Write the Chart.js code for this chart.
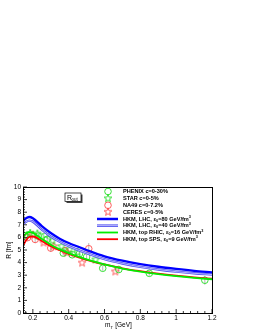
<!DOCTYPE html>
<html>
<head>
<meta charset="utf-8">
<script src="https://cdn.jsdelivr.net/npm/chart.js@4/dist/chart.umd.min.js"></script>
<style>
  html, body { margin: 0; padding: 0; background: #fff; }
  #wrap { width: 255px; height: 330px; }
</style>
</head>
<body>
<div id="wrap"><canvas id="routChart" width="255" height="330"></canvas></div>
<script>
// HKM model curves, R_out vs m_T
const curveMt = [0.145, 0.16, 0.18, 0.2, 0.25, 0.3, 0.35, 0.4, 0.5, 0.6, 0.7, 0.8, 0.9, 1.0, 1.1, 1.2];
const lhc80 = [7.3, 7.5, 7.62, 7.52, 6.9, 6.35, 5.9, 5.55, 5.0, 4.5, 4.15, 3.88, 3.67, 3.5, 3.35, 3.23];
const lhc40 = [7.05, 7.22, 7.33, 7.25, 6.62, 6.07, 5.65, 5.3, 4.75, 4.27, 3.93, 3.66, 3.45, 3.28, 3.15, 3.05];
const rhic16 = [6.0, 6.28, 6.42, 6.36, 5.88, 5.42, 5.05, 4.75, 4.25, 3.85, 3.53, 3.28, 3.08, 2.92, 2.79, 2.68];
const sps9 = [5.35, 5.72, 6.05, 6.08, 5.72, 5.3, 4.98, 4.7, 4.22, 3.85, 3.55, 3.32, 3.12, 2.96, 2.83, 2.72];

// experimental points
const phenixMt = [0.155, 0.23, 0.28, 0.37, 0.42, 0.46, 0.5, 0.59, 0.68, 0.85, 1.16];
const phenixR = [6.15, 6.1, 5.85, 4.75, 4.62, 4.7, 4.45, 3.55, 3.45, 3.15, 2.6];
const phenixErr = [0.2, 0.2, 0.2, 0.2, 0.2, 0.2, 0.2, 0.2, 0.2, 0.2, 0.35];
const starMt = [0.185, 0.225, 0.27, 0.31, 0.36, 0.405, 0.45, 0.55];
const starR = [6.35, 6.3, 6.2, 5.75, 5.3, 5.05, 4.85, 4.25];
const na49Mt = [0.17, 0.213, 0.3, 0.38, 0.512];
const na49R = [5.98, 5.84, 5.15, 4.95, 5.1];
const na49Err = [0.25, 0.3, 0.3, 0.3, 0.45];
const ceresMt = [0.2, 0.26, 0.315, 0.39, 0.475, 0.66];
const ceresR = [6.22, 5.6, 5.3, 4.8, 4.0, 3.3];

const xTicks = [0.2, 0.4, 0.6, 0.8, 1, 1.2];
const yTicks = [0, 1, 2, 3, 4, 5, 6, 7, 8, 9, 10];

const GREEN = '#22dd22';
const RED = '#ff4c4c';

function starImg(color) {
  const c = document.createElement('canvas');
  c.width = 10; c.height = 10;
  const g = c.getContext('2d');
  g.strokeStyle = color;
  g.lineWidth = 0.9;
  g.beginPath();
  for (let i = 0; i < 10; i++) {
    const r = i % 2 ? 1.7 : 4.1;
    const a = -Math.PI / 2 + i * Math.PI / 5;
    const px = 5 + r * Math.cos(a), py = 5.2 + r * Math.sin(a);
    i ? g.lineTo(px, py) : g.moveTo(px, py);
  }
  g.closePath();
  g.stroke();
  return c;
}
const greenStar = starImg(GREEN);
const redStar = starImg(RED);

const pts = (xs, ys) => xs.map((x, i) => ({ x, y: ys[i] }));

function curve(ys, color, width) {
  return {
    type: 'line', data: pts(curveMt, ys), borderColor: color, borderWidth: width,
    pointRadius: 0, fill: false, cubicInterpolationMode: 'monotone',
  };
}

function marker(xs, ys, style, color) {
  return {
    type: 'scatter', data: pts(xs, ys), pointStyle: style, pointRadius: 3.3,
    borderColor: color, backgroundColor: 'rgba(0,0,0,0)', borderWidth: 0.9,
  };
}

const errBars = [
  { x: phenixMt, y: phenixR, e: phenixErr },
  { x: na49Mt, y: na49R, e: na49Err },
];

// frame, ticks, labels, legend drawn ROOT-style
const rootFrame = {
  id: 'rootFrame',
  beforeDatasetsDraw(chart) {
    const { ctx, scales: { x, y } } = chart;
    ctx.save();
    ctx.strokeStyle = '#999';
    ctx.lineWidth = 0.7;
    errBars.forEach((s) => {
      s.x.forEach((mx, i) => {
        const px = x.getPixelForValue(mx);
        ctx.beginPath();
        ctx.moveTo(px, y.getPixelForValue(s.y[i] - s.e[i]));
        ctx.lineTo(px, y.getPixelForValue(s.y[i] + s.e[i]));
        ctx.stroke();
      });
    });
    ctx.restore();
  },
  afterDraw(chart) {
    const { ctx, chartArea: a, scales: { x, y } } = chart;
    ctx.save();
    ctx.strokeStyle = '#000';
    ctx.lineWidth = 1;
    ctx.strokeRect(a.left + 0.5, a.top + 0.5, a.right - a.left, a.bottom - a.top);

    ctx.lineWidth = 0.8;
    ctx.beginPath();
    for (let v = 0.16; v <= 1.2001; v += 0.04) {
      const px = x.getPixelForValue(v);
      const major = Math.abs(v * 5 - Math.round(v * 5)) < 1e-6;
      ctx.moveTo(px, a.bottom);
      ctx.lineTo(px, a.bottom - (major ? 4 : 2));
    }
    for (let v = 0; v <= 10.001; v += 0.2) {
      const py = y.getPixelForValue(v);
      const major = Math.abs(v - Math.round(v)) < 1e-6;
      ctx.moveTo(a.left, py);
      ctx.lineTo(a.left + (major ? 4 : 2), py);
    }
    ctx.stroke();

    ctx.fillStyle = '#000';
    ctx.font = '6.5px "Liberation Sans", Arial, sans-serif';
    ctx.textAlign = 'center';
    ctx.textBaseline = 'top';
    xTicks.forEach((v) => ctx.fillText(String(v), x.getPixelForValue(v), a.bottom + 2));
    ctx.textAlign = 'right';
    ctx.textBaseline = 'middle';
    yTicks.forEach((v) => ctx.fillText(String(v), a.left - 2, y.getPixelForValue(v)));

    // axis titles
    ctx.textAlign = 'left';
    ctx.textBaseline = 'alphabetic';
    ctx.font = '6.5px "Liberation Sans", Arial, sans-serif';
    ctx.fillText('m', 105, 327);
    const w = ctx.measureText('m').width;
    ctx.font = '4.2px "Liberation Sans", Arial, sans-serif';
    ctx.fillText('T', 105 + w, 328.5);
    ctx.font = '6.5px "Liberation Sans", Arial, sans-serif';
    ctx.fillText(' [GeV]', 105 + w + 3, 327);

    ctx.save();
    ctx.translate(11, 250);
    ctx.rotate(-Math.PI / 2);
    ctx.textAlign = 'center';
    ctx.fillText('R [fm]', 0, 0);
    ctx.restore();

    // R_out label box
    ctx.fillStyle = '#444';
    ctx.fillRect(66.5, 194.5, 16, 8.5);
    ctx.fillStyle = '#fff';
    ctx.fillRect(65, 193, 16, 8.5);
    ctx.strokeStyle = '#000';
    ctx.lineWidth = 0.7;
    ctx.strokeRect(65, 193, 16, 8.5);
    ctx.fillStyle = '#000';
    ctx.font = '7px "Liberation Sans", Arial, sans-serif';
    ctx.fillText('R', 67, 200);
    ctx.font = '4.5px "Liberation Sans", Arial, sans-serif';
    ctx.fillText('out', 71.5, 201.3);

    // legend
    const rows = [
      { kind: 'circle', color: GREEN, text: ['PHENIX c=0-30%'] },
      { kind: 'star', img: greenStar, text: ['STAR c=0-5%'] },
      { kind: 'circle', color: RED, text: ['NA49 c=0-7.2%'] },
      { kind: 'star', img: redStar, text: ['CERES c=0-5%'] },
      { kind: 'line', color: '#0000ff', width: 2.5, text: ['HKM, LHC, ε', '0', '=80 GeV/fm', '3'] },
      { kind: 'double', text: ['HKM, LHC, ε', '0', '=40 GeV/fm', '3'] },
      { kind: 'line', color: '#00ee00', width: 1.8, text: ['HKM, top RHIC, ε', '0', '=16 GeV/fm', '3'] },
      { kind: 'line', color: '#ff0000', width: 1.8, text: ['HKM, top SPS, ε', '0', '=9 GeV/fm', '3'] },
    ];
    const rowY = [191.5, 198.5, 205.3, 212, 219, 225.7, 232.5, 239.2];
    rows.forEach((r, i) => {
      const ry = rowY[i];
      if (r.kind === 'circle') {
        ctx.strokeStyle = r.color;
        ctx.lineWidth = 0.9;
        ctx.beginPath();
        ctx.arc(108, ry, 3.3, 0, Math.PI * 2);
        ctx.stroke();
      } else if (r.kind === 'star') {
        ctx.drawImage(r.img, 103, ry - 5.2);
      } else if (r.kind === 'line') {
        ctx.strokeStyle = r.color;
        ctx.lineWidth = r.width;
        ctx.beginPath(); ctx.moveTo(97, ry); ctx.lineTo(118, ry); ctx.stroke();
      } else {
        ctx.strokeStyle = '#5050f0';
        ctx.lineWidth = 2.6;
        ctx.beginPath(); ctx.moveTo(97, ry); ctx.lineTo(118, ry); ctx.stroke();
        ctx.strokeStyle = '#d0d0ff';
        ctx.lineWidth = 0.9;
        ctx.beginPath(); ctx.moveTo(97, ry); ctx.lineTo(118, ry); ctx.stroke();
      }
      ctx.fillStyle = '#000';
      ctx.textBaseline = 'middle';
      let tx = 123;
      r.text.forEach((part, k) => {
        if (k % 2 === 0) {
          ctx.font = 'bold 5.6px "Liberation Sans", Arial, sans-serif';
          ctx.fillText(part, tx, ry);
        } else {
          ctx.font = 'bold 3.8px "Liberation Sans", Arial, sans-serif';
          ctx.fillText(part, tx, k === 1 ? ry + 1.5 : ry - 2);
        }
        tx += ctx.measureText(part).width;
      });
    });
    ctx.restore();
  },
};

new Chart(document.getElementById('routChart'), {
  type: 'scatter',
  data: {
    datasets: [
      curve(lhc80, '#0000ff', 2.3),
      curve(lhc40, '#d0d0ff', 0.8),
      curve(lhc40, '#5050f0', 2.4),
      curve(rhic16, '#00ee00', 1.8),
      curve(sps9, '#ff0000', 1.8),
      marker(phenixMt, phenixR, 'circle', GREEN),
      marker(starMt, starR, greenStar, GREEN),
      marker(na49Mt, na49R, 'circle', RED),
      marker(ceresMt, ceresR, redStar, RED),
    ],
  },
  options: {
    responsive: false,
    animation: false,
    layout: { padding: { left: 23, right: 43, top: 187, bottom: 17 } },
    plugins: { legend: { display: false }, tooltip: { enabled: false } },
    scales: {
      x: { type: 'linear', min: 0.145, max: 1.2, display: false },
      y: { type: 'linear', min: 0, max: 10, display: false },
    },
  },
  plugins: [rootFrame],
});
</script>
</body>
</html>
